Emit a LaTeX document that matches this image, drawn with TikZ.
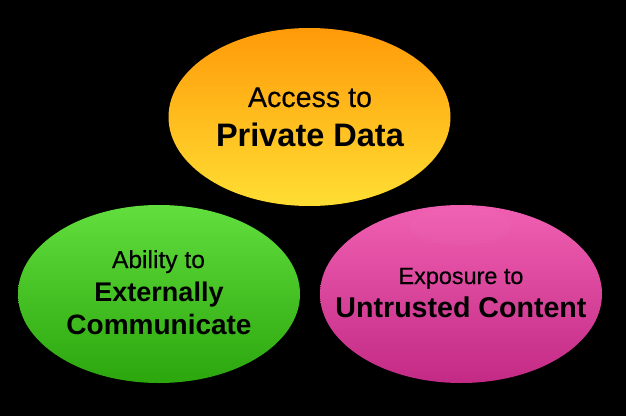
\documentclass[tikz,border=0pt]{standalone}
\usepackage{fontspec}
\setmainfont{Liberation Sans}
\newfontfamily\mediumfont[FakeBold=0.35]{Liberation Sans}
\usetikzlibrary{shapes.geometric}
\definecolor{orangetop}{HTML}{FF9A08}
\definecolor{orangebot}{HTML}{FFDE33}
\definecolor{greentop}{HTML}{62DE3E}
\definecolor{greenbot}{HTML}{2BA60D}
\definecolor{pinktop}{HTML}{F060B2}
\definecolor{pinkbot}{HTML}{C32A85}
\tikzset{
  bubble/.style={ellipse, minimum width=282pt, minimum height=178pt, inner sep=0pt},
  thinline/.style={anchor=base, inner sep=0pt, text=black, font=\mediumfont\fontsize{#1}{#1}\selectfont},
  boldline/.style={anchor=base, inner sep=0pt, text=black, font=\fontsize{#1}{#1}\selectfont\bfseries}
}
\begin{document}
\begin{tikzpicture}[x=1pt,y=1pt]
    \fill[black] (0,0) rectangle (626,416);
    \useasboundingbox (0,0) rectangle (626,416);
    \node[bubble, top color=orangetop, bottom color=orangebot] (access) at (309.5,299) {};
    \node[bubble, top color=greentop, bottom color=greenbot] (ability) at (159,122) {};
    \node[bubble, top color=pinktop, bottom color=pinkbot] (exposure) at (461,122) {};
    \fill[white, opacity=0.02] (461,190) ellipse (51 and 19); % faint patch near the top
    % top
    \node[thinline=28.6] (accessa) at (310,309) {Access to};
    \node[boldline=32.5] (accessb) at (310,270) {Private Data};
    % left
    \node[thinline=24.6] (abilitya) at (158.5,148) {Ability to};
    \node[boldline=27] (abilityb) at (159,115) {Externally};
    \node[boldline=28] (abilityc) at (159,82) {Communicate};
    % right
    \node[thinline=23.4] (exposurea) at (461,132) {Exposure to};
    \node[boldline=28.6] (exposureb) at (461,99) {Untrusted Content};
\end{tikzpicture}
\end{document}
